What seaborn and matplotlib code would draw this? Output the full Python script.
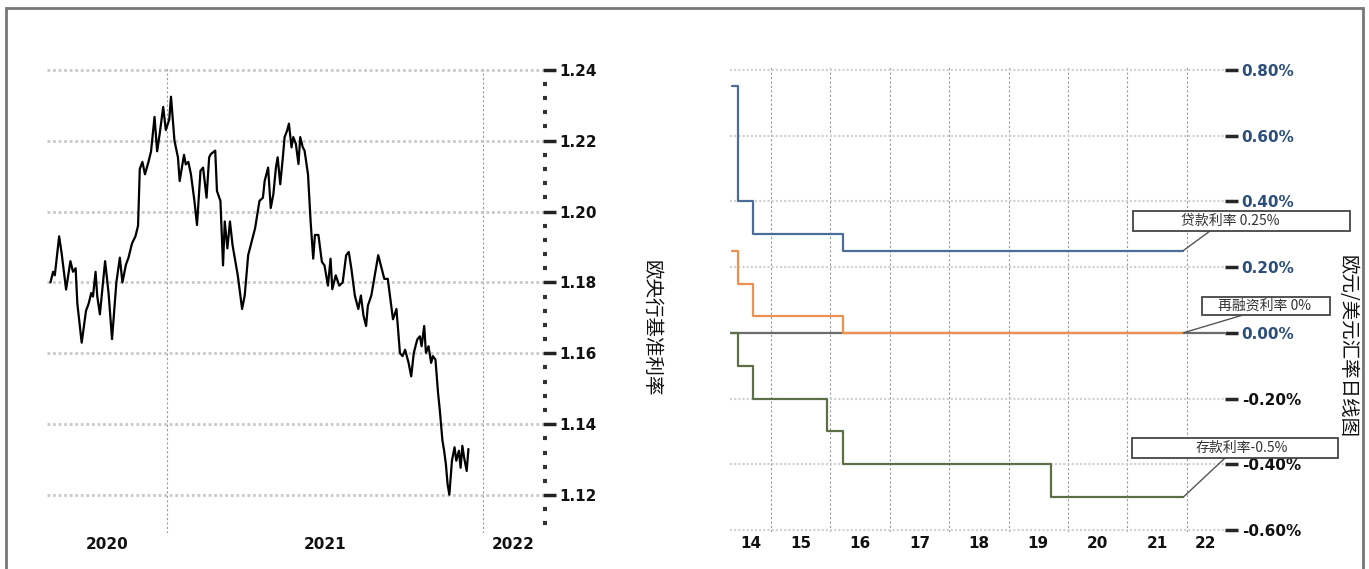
import numpy as np
import pandas as pd
import matplotlib.pyplot as plt
import matplotlib.dates as mdates
from matplotlib.patches import Rectangle
from matplotlib.ticker import MultipleLocator
import seaborn as sns

# EUR/USD daily close, days counted from 2021-01-01
fx_days = [-134, -131, -129, -124, -121, -116, -111, -108, -105, -103,
           -98, -93, -90, -87, -85, -82, -80, -77, -71, -67,
           -63, -58, -54, -51, -47, -44, -40, -36, -33, -31,
           -28, -25, -21, -18, -14, -11, -8, -4, -1, 3,
           5, 9, 13, 15, 20, 22, 25, 28, 32, 35,
           39, 42, 46, 49, 51, 56, 58, 62, 65, 67,
           70, 73, 76, 78, 82, 87, 90, 94, 98, 102,
           107, 111, 113, 117, 120, 123, 126, 128, 131, 134,
           136, 139, 141, 144, 146, 149, 152, 154, 157, 159,
           163, 166, 169, 171, 175, 179, 182, 186, 189, 191,
           195, 199, 203, 207, 210, 213, 217, 221, 224, 227,
           230, 232, 236, 240, 244, 248, 251, 255, 258, 261,
           265, 269, 272, 275, 279, 282, 285, 289, 292, 294,
           297, 299, 302, 305, 307, 310, 313, 315, 318, 320,
           322, 324, 326, 329, 332, 334, 337, 339, 341, 343,
           346, 348]
fx_close = [1.180, 1.183, 1.182, 1.193, 1.188, 1.178, 1.186, 1.183, 1.184, 1.174,
            1.163, 1.172, 1.174, 1.177, 1.176, 1.183, 1.176, 1.171, 1.186, 1.177,
            1.164, 1.180, 1.187, 1.180, 1.185, 1.187, 1.191, 1.193, 1.196, 1.212,
            1.214, 1.2105, 1.214, 1.217, 1.2267, 1.217, 1.222, 1.2295, 1.223, 1.226,
            1.2324, 1.220, 1.2153, 1.2086, 1.216, 1.2133, 1.214, 1.2105, 1.203, 1.1962,
            1.2115, 1.2124, 1.2039, 1.2153, 1.2162, 1.2172, 1.2058, 1.203, 1.1848, 1.1972,
            1.1896, 1.1972, 1.1905, 1.1877, 1.182, 1.1725, 1.1763, 1.1877, 1.1915, 1.1953,
            1.203, 1.2039, 1.2086, 1.2124, 1.201, 1.2048, 1.2124, 1.2153, 1.2077, 1.2153,
            1.221, 1.2229, 1.2248, 1.2181, 1.221, 1.2191, 1.2134, 1.221, 1.2181, 1.2172,
            1.2105, 1.1972, 1.1867, 1.1934, 1.1934, 1.1858, 1.1848, 1.1791, 1.1867, 1.1781,
            1.182, 1.1791, 1.180, 1.1877, 1.1886, 1.1839, 1.1763, 1.1725, 1.1763, 1.1706,
            1.1677, 1.1734, 1.1763, 1.182, 1.1877, 1.1839, 1.181, 1.181, 1.1753, 1.1696,
            1.1725, 1.1601, 1.1592, 1.161, 1.1573, 1.1535, 1.1601, 1.1639, 1.1648, 1.162,
            1.1677, 1.1601, 1.162, 1.1573, 1.1592, 1.1582, 1.1487, 1.144, 1.1354, 1.1325,
            1.1287, 1.123, 1.1201, 1.1297, 1.1335, 1.1297, 1.1325, 1.1277, 1.1339, 1.1306,
            1.1268, 1.1330]
fx_ticks = [1.12, 1.14, 1.16, 1.18, 1.20, 1.22, 1.24]
fx_year_labels = ["2020", "2021", "2022"]
fx_year_marks = ["2021-01-01", "2022-01-01"]

# ECB policy rates (%), step changes
rate_dates = ["2014-05-08", "2014-06-11", "2014-09-10", "2015-12-09",
              "2016-03-16", "2019-09-18", "2021-12-10"]
lending_rate = [0.75, 0.40, 0.30, 0.30, 0.25, 0.25, 0.25]
refi_rate = [0.25, 0.15, 0.05, 0.05, 0.00, 0.00, 0.00]
deposit_rate = [0.00, -0.10, -0.20, -0.30, -0.40, -0.50, -0.50]
rate_names = ["贷款利率", "再融资利率", "存款利率"]
rate_notes = ["贷款利率 0.25%", "再融资利率 0%", "存款利率-0.5%"]
rate_ticks = [-0.6, -0.4, -0.2, 0.0, 0.2, 0.4, 0.6, 0.8]
rate_year_labels = ["14", "15", "16", "17", "18", "19", "20", "21", "22"]
rate_year_marks = ["2015-01-01", "2016-01-01", "2017-01-01", "2018-01-01",
                   "2019-01-01", "2020-01-01", "2021-01-01", "2022-01-01"]

left_title = "欧央行基准利率"
right_title = "欧元/美元汇率日线图"

sns.set_style("white")
plt.rcParams["font.family"] = ["DejaVu Sans", "Noto Sans CJK SC"]
CJK = ["Noto Sans CJK SC", "DejaVu Sans"]

W, H = 1369, 569
fig = plt.figure(figsize=(W / 100, H / 100), dpi=100)


def px_axes(x0, y0, x1, y1):
    return fig.add_axes([x0 / W, 1 - y1 / H, (x1 - x0) / W, (y1 - y0) / H])


def year_axis(ax, marks, labels):
    marks = mdates.date2num(pd.to_datetime(marks))
    lo, hi = ax.get_xlim()
    edges = np.concatenate([[lo], marks, [hi]])
    ax.set_xticks(marks, [""] * len(marks))
    ax.set_xticks((edges[:-1] + edges[1:]) / 2, labels, minor=True,
                  fontweight="bold", fontsize=11, color="#111")
    ax.tick_params(axis="x", which="minor", length=0, pad=3)
    ax.tick_params(axis="x", which="major", length=4, width=2.5, color="#444", direction="out")
    ax.grid(axis="x", which="major", color="#9a9a9a", lw=0.8, ls=(0, (2, 2)))


ax1 = px_axes(47, 68, 543, 533)
ax2 = px_axes(730, 67, 1225, 532)

# left: EUR/USD
fx = pd.DataFrame({
    "date": pd.Timestamp("2021-01-01") + pd.to_timedelta(fx_days, unit="D"),
    "close": fx_close,
})
sns.lineplot(data=fx, x="date", y="close", color="black", lw=1.6, ax=ax1)
ax1.set_xlim(pd.Timestamp("2020-08-16"), pd.Timestamp("2022-03-11"))
ax1.set_ylim(1.1093, 1.2405)
ax1.yaxis.tick_right()
ax1.set_yticks(fx_ticks, [f"{v:.2f}" for v in fx_ticks], fontweight="bold", fontsize=11, color="#111")
ax1.yaxis.set_minor_locator(MultipleLocator(0.004))
ax1.tick_params(axis="y", which="major", length=9, width=2.5, color="#222", pad=3)
ax1.tick_params(axis="y", which="minor", length=3, width=3, color="#333")
ax1.grid(axis="y", which="major", color="#c9c9c9", lw=2, ls=(0, (1, 1)))
year_axis(ax1, fx_year_marks, fx_year_labels)
ax1.text(1.218, 0.441, left_title, transform=ax1.transAxes, rotation=270,
         ha="center", va="center", fontsize=14, family=CJK, color="#111")

# right: ECB rates
rates = pd.DataFrame({"date": pd.to_datetime(rate_dates),
                      rate_names[0]: lending_rate,
                      rate_names[1]: refi_rate,
                      rate_names[2]: deposit_rate})
rates_long = rates.melt(id_vars="date", var_name="kind", value_name="rate")
palette = {rate_names[0]: "#4a6e98", rate_names[1]: "#ee9150", rate_names[2]: "#5d6f47"}
ax2.axhline(0, color="#6b6b6b", lw=1.6, zorder=1.5)
sns.lineplot(data=rates_long, x="date", y="rate", hue="kind", palette=palette,
             drawstyle="steps-post", lw=1.6, legend=False, ax=ax2, zorder=2)
ax2.set_xlim(pd.Timestamp("2014-04-24"), pd.Timestamp("2022-08-24"))
ax2.set_ylim(-0.606, 0.809)
ax2.yaxis.tick_right()
ax2.set_yticks(rate_ticks, [f"{v:.2f}%" for v in rate_ticks], fontweight="bold", fontsize=11)
ax2.tick_params(axis="y", which="major", length=9, width=2.5, pad=3)
for lab, tick, v in zip(ax2.get_yticklabels(), ax2.yaxis.get_major_ticks(), rate_ticks):
    c = "#2c4f7c" if v >= -1e-9 else "#111111"
    lab.set_color(c)
    tick.tick2line.set_color(c)
ax2.grid(axis="y", which="major", color="#d0d0d0", lw=1.5, ls=(0, (1, 1)))
year_axis(ax2, rate_year_marks, rate_year_labels)
ax2.text(1.246, 0.398, right_title, transform=ax2.transAxes, rotation=270,
         ha="center", va="center", fontsize=14, family=CJK, color="#111")

# note boxes with leader lines (pixel layout, y from top)
boxes = [(1133, 211, 1350, 231, 1230, 1210),
         (1202, 297, 1330, 315, 1265, 1243),
         (1132, 438, 1338, 458, 1242, 1225)]
end_date = pd.Timestamp(rate_dates[-1])
end_vals = [lending_rate[-1], refi_rate[-1], deposit_rate[-1]]
for (x0, yt, x1, yb, tx, ax_), note, v in zip(boxes, rate_notes, end_vals):
    fig.add_artist(Rectangle((x0 / W, 1 - yb / H), (x1 - x0) / W, (yb - yt) / H,
                             transform=fig.transFigure, facecolor="white",
                             edgecolor="#444", lw=1.3, zorder=5))
    fig.text(tx / W, 1 - (yt + yb) / 2 / H, note, ha="center", va="center",
             fontsize=10, family=CJK, color="#333", zorder=6)
    ax2.annotate("", xy=(end_date, v), xytext=(ax_, H - yb), textcoords="figure pixels",
                 arrowprops=dict(arrowstyle="-", color="#555", lw=1, shrinkA=0, shrinkB=0),
                 annotation_clip=False)

for ax in (ax1, ax2):
    ax.set_xlabel("")
    ax.set_ylabel("")
    for s in ax.spines.values():
        s.set_visible(False)

# outer frame
fig.add_artist(Rectangle((6 / W, -0.05), (1363 - 6) / W, 1 - 8 / H + 0.05,
                         transform=fig.transFigure, fill=False, edgecolor="#777", lw=2))

plt.savefig("out.png", dpi=100)
